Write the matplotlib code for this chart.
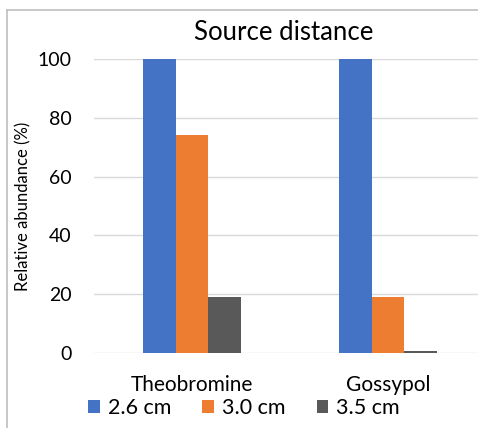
import matplotlib
matplotlib.use("Agg")
import matplotlib.pyplot as plt
from matplotlib.lines import Line2D
import numpy as np

plt.rcParams["font.family"] = ["Lato", "DejaVu Sans"]

compounds = ["Theobromine", "Gossypol"]
distances = ["2.6 cm", "3.0 cm", "3.5 cm"]
abundance = {
    "2.6 cm": [100, 100],
    "3.0 cm": [74, 19],
    "3.5 cm": [19, 0.8],
}
colors = ["#4472c4", "#ed7d31", "#595959"]

W, H = 478, 428
fig = plt.figure(figsize=(W / 100, H / 100), dpi=100)
ax = fig.add_axes([94 / W, (H - 353) / H, 392 / W, 294 / H])

x = np.arange(len(compounds))
bw = 0.168
for i, (d, c) in enumerate(zip(distances, colors)):
    ax.bar(x + (i - 1) * bw, abundance[d], width=bw, color=c, label=d, zorder=3)

ax.set_xlim(-0.5, 1.5)
ax.set_ylim(0, 100)
ax.set_yticks(range(0, 101, 20))
ax.set_xticks(x)
ax.set_xticklabels(compounds, fontsize=15)
ax.tick_params(axis="y", length=0, pad=16, labelsize=14)
ax.tick_params(axis="x", length=0, pad=16)
ax.grid(axis="y", color="#d9d9d9", linewidth=1, zorder=0)
for s in ax.spines.values():
    s.set_visible(False)

ax.set_ylabel("Relative abundance (%)", fontsize=12)
ax.yaxis.set_label_coords(-(94 - 31) / 392, 0.5)

fig.text(284 / W, 1 - 32 / H, "Source distance", ha="center", va="center", fontsize=18.5)

handles, labels = ax.get_legend_handles_labels()
fig.legend(handles, labels, loc="center", bbox_to_anchor=(244 / W, 1 - 408 / H),
           ncol=3, frameon=False, fontsize=15.5, handlelength=0.55, handleheight=0.55,
           handletextpad=0.35, columnspacing=1.45)

# outer chart border
fig.add_artist(Line2D([7 / W, 7 / W], [0, 1 - 10 / H], transform=fig.transFigure,
                      color="#bfbfbf", linewidth=1.2))
fig.add_artist(Line2D([7 / W, 1], [1 - 10 / H, 1 - 10 / H], transform=fig.transFigure,
                      color="#bfbfbf", linewidth=1.2))

fig.savefig("out.png", dpi=100)
